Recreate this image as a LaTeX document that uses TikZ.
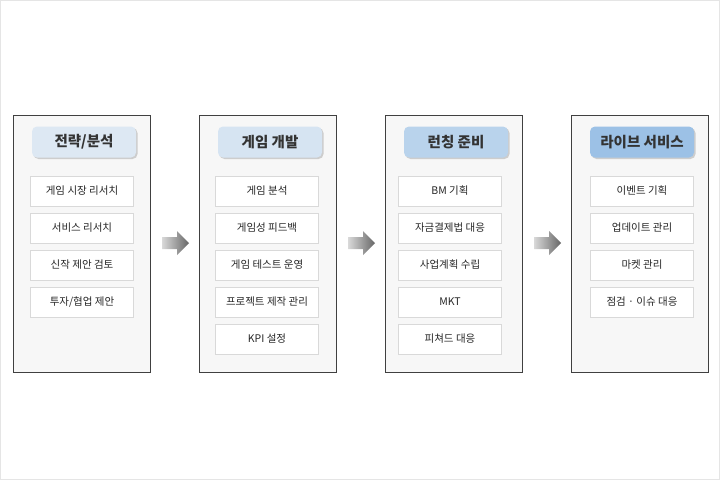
\documentclass[tikz,border=0pt]{standalone}
\usepackage{fontspec}
\setmainfont{Noto Sans CJK KR}
\usetikzlibrary{shadows}
\begin{document}
\begin{tikzpicture}[x=1pt,y=-1pt,
 panel/.style={draw=black!75,line width=0.8pt,fill=black!3},
 head/.style={rounded corners=5pt,minimum width=104pt,minimum height=31pt,font=\bfseries\fontsize{14.5}{15}\selectfont,text=black!80,drop shadow={shadow xshift=1.5pt,shadow yshift=-1.5pt,opacity=0.35}},
 item/.style={draw=black!15,fill=white,minimum width=103pt,minimum height=30pt,font=\fontsize{10.5}{11}\selectfont,text=black!85},
 arr/.style={left color=black!15,right color=black!60,draw=none}]
\draw[draw=black!10,fill=white] (0.5,0.5) rectangle (719.5,479.5);
\useasboundingbox (0,0) rectangle (720,480);
\foreach \px in {13,199,385,571}{
  \draw[panel] (\px,115) rectangle ++(137,257);
}
\definecolor{C1}{HTML}{DDE8F3}\definecolor{C2}{HTML}{D6E4F2}
\definecolor{C3}{HTML}{B9D3EC}\definecolor{C4}{HTML}{9CC1E6}
\node[head,fill=C1] (h1) at (84,142) {전략/분석};
\node[head,fill=C2] (h2) at (270,142) {게임 개발};
\node[head,fill=C3] (h3) at (456,142) {런칭 준비};
\node[head,fill=C4] (h4) at (642,142) {라이브 서비스};
\node[item] (a1) at (82,191) {게임 시장 리서치};
\node[item] (a2) at (82,228) {서비스 리서치};
\node[item] (a3) at (82,265) {신작 제안 검토};
\node[item] (a4) at (82,302) {투자/협업 제안};
\node[item] (b1) at (267,191) {게임 분석};
\node[item] (b2) at (267,228) {게임성 피드백};
\node[item] (b3) at (267,265) {게임 테스트 운영};
\node[item] (b4) at (267,302) {프로젝트 제작 관리};
\node[item] (b5) at (267,339) {KPI 설정};
\node[item] (c1) at (450,191) {BM 기획};
\node[item] (c2) at (450,228) {자금결제법 대응};
\node[item] (c3) at (450,265) {사업계획 수립};
\node[item] (c4) at (450,302) {MKT};
\node[item] (c5) at (450,339) {피쳐드 대응};
\node[item] (d1) at (642,191) {이벤트 기획};
\node[item] (d2) at (642,228) {업데이트 관리};
\node[item] (d3) at (642,265) {마켓 관리};
\node[item] (d4) at (642,302) {점검 · 이슈 대응};
\foreach \ax in {162,348,534}{
  \path[arr] (\ax,237) -- (\ax+15,237) -- (\ax+15,231) -- (\ax+27,243) -- (\ax+15,255) -- (\ax+15,249) -- (\ax,249) -- cycle;
}
\end{tikzpicture}
\end{document}
